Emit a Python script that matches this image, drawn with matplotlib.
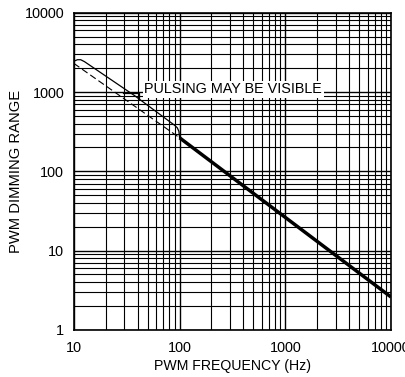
import matplotlib.pyplot as plt

plt.rcParams['font.family'] = ['Liberation Sans', 'DejaVu Sans']

# thick curve
freq_solid = [100, 10000]
range_solid = [265, 2.6]

# dashed continuation below 100Hz
freq_dash = [10, 100]
range_dash = [2300, 265]

# outline of the "pulsing may be visible" zone
freq_zone = [10.2, 10.8, 11.6, 12.6, 37.6, 90, 95, 98.5, 100]
range_zone = [2480, 2560, 2560, 2420, 900, 380, 355, 320, 265]

# leader to the label
freq_lead = [29, 41, 41]
range_lead = [980, 980, 850]

x_ticks = [10, 100, 1000, 10000]
y_ticks = [1, 10, 100, 1000, 10000]

fig = plt.figure(figsize=(4.06, 3.77), dpi=100)
ax = fig.add_axes([0.182, 0.125, 0.781, 0.841])

ax.set_xscale('log')
ax.set_yscale('log')
ax.set_xlim(10, 10000)
ax.set_ylim(1, 10000)

ax.grid(True, which='major', color='black', linewidth=1.0)
ax.grid(True, which='minor', color='black', linewidth=0.8)

ax.plot(freq_solid, range_solid, color='black', linewidth=2.5, solid_capstyle='butt', zorder=3)
ax.plot(freq_dash, range_dash, color='black', linewidth=0.8, dashes=(6, 3), zorder=3)
ax.plot(freq_zone, range_zone, color='black', linewidth=0.9, zorder=3)
ax.plot(freq_lead, range_lead, color='black', linewidth=0.9, zorder=3)

ax.text(46.5, 1090, 'PULSING MAY BE VISIBLE', fontsize=10.4, va='center', ha='left',
        bbox=dict(facecolor='white', edgecolor='none', pad=1.0), zorder=4)

ax.set_xticks(x_ticks)
ax.set_xticklabels([str(v) for v in x_ticks])
ax.set_yticks(y_ticks)
ax.set_yticklabels([str(v) for v in y_ticks])
ax.tick_params(which='both', length=0, labelsize=10.4, pad=7)
ax.tick_params(axis='x', pad=8)

for s in ax.spines.values():
    s.set_color('black')
    s.set_linewidth(1.2)

ax.set_xlabel('PWM FREQUENCY (Hz)', fontsize=10.2, labelpad=3)
ax.set_ylabel('PWM DIMMING RANGE', fontsize=10.6)
ax.yaxis.set_label_coords(-0.16, 0.5)

fig.savefig('out.png', dpi=100)
